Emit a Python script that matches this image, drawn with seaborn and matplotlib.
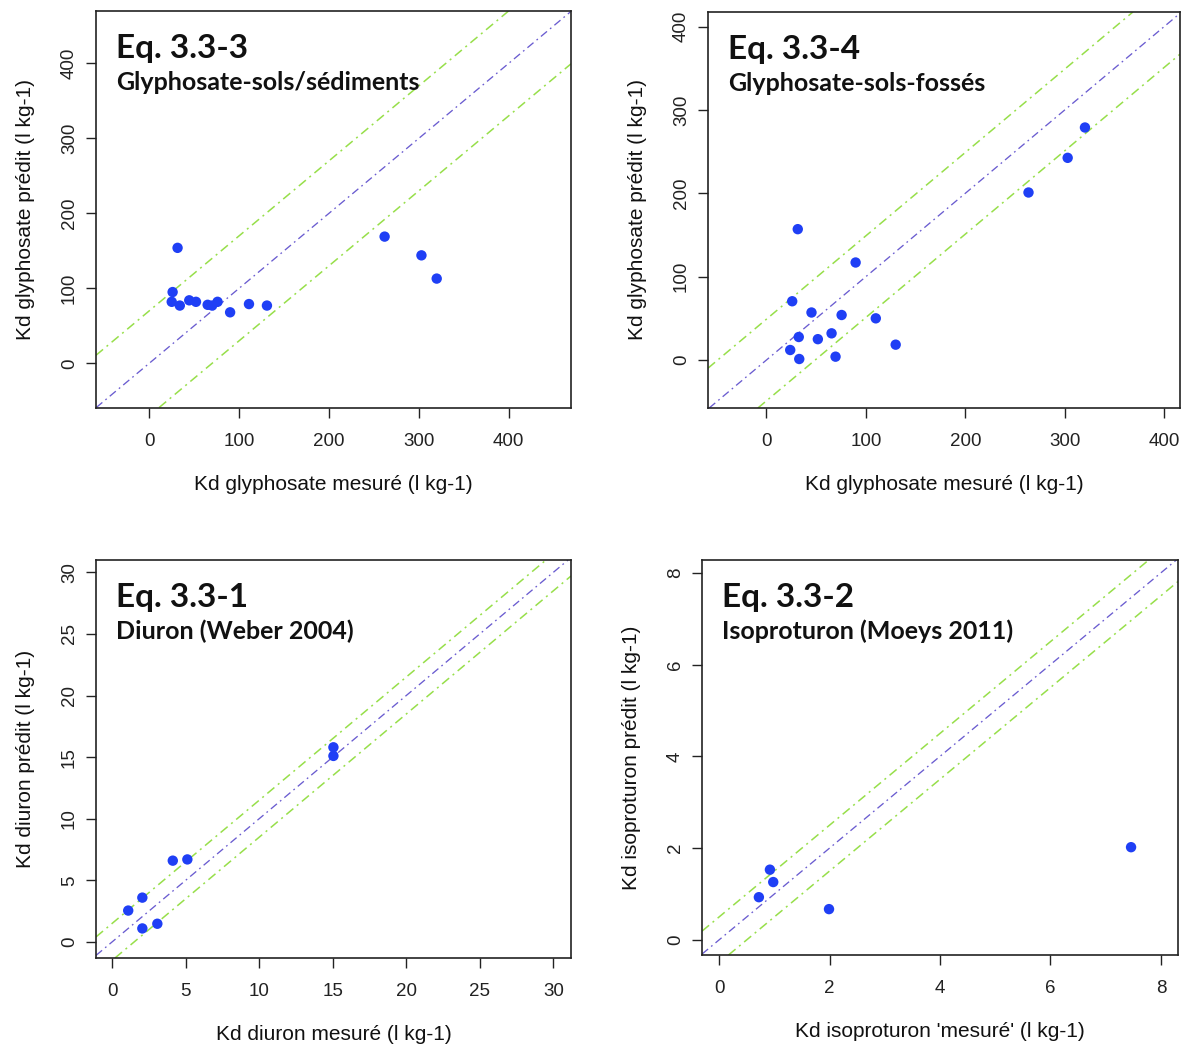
import matplotlib
matplotlib.use("Agg")
import matplotlib.pyplot as plt
import seaborn as sns
import pandas as pd

# ---------------- data ----------------
glypho_sed_mesure = [31.5, 26, 25, 34, 44.5, 52, 65, 70, 76, 90, 111, 131, 262, 303, 320]
glypho_sed_predit = [154, 95, 82, 77, 84, 82, 78, 77, 82, 68, 79, 77, 169, 144, 113]

glypho_fos_mesure = [31.5, 89.7, 25.9, 45.3, 75.6, 110, 32.5, 51.7, 65.5, 23.9, 33, 69.5, 130, 263.6, 303, 320.4]
glypho_fos_predit = [157, 117, 70.5, 57, 54, 50, 27.6, 25, 32, 12, 1.2, 4, 18.4, 201, 242.6, 279]

diuron_mesure = [15.05, 15.05, 4.13, 5.12, 2.06, 1.1, 2.06, 3.08]
diuron_predit = [15.8, 15.1, 6.6, 6.7, 3.6, 2.55, 1.1, 1.48]

isoprot_mesure = [0.92, 0.98, 0.72, 1.99, 7.46]
isoprot_predit = [1.53, 1.26, 0.93, 0.67, 2.02]

titles = ["Eq. 3.3-3", "Eq. 3.3-4", "Eq. 3.3-1", "Eq. 3.3-2"]
subtitles = ["Glyphosate-sols/sédiments", "Glyphosate-sols-fossés",
             "Diuron (Weber 2004)", "Isoproturon (Moeys 2011)"]
xlabels = ["Kd glyphosate mesuré (l kg-1)", "Kd glyphosate mesuré (l kg-1)",
           "Kd diuron mesuré (l kg-1)", "Kd isoproturon 'mesuré' (l kg-1)"]
ylabels = ["Kd glyphosate prédit (l kg-1)", "Kd glyphosate prédit (l kg-1)",
           "Kd diuron prédit (l kg-1)", "Kd isoproturon prédit (l kg-1)"]
ticks = [[0, 100, 200, 300, 400], [0, 100, 200, 300, 400],
         [0, 5, 10, 15, 20, 25, 30], [0, 2, 4, 6, 8]]
band_offsets = [70, 49, 1.5, 0.5]

# ---------------- style ----------------
sns.set_style("white")
plt.rcParams["font.family"] = ["Liberation Sans", "DejaVu Sans"]

fig = plt.figure(figsize=(11.82, 10.46), dpi=100)
W, H = 1182, 1046

def px_axes(l, t, r, b):
    return fig.add_axes([l / W, 1 - b / H, (r - l) / W, (b - t) / H])

axes = [px_axes(96, 11, 571, 407.5),
        px_axes(708, 12, 1180, 408),
        px_axes(96, 560, 571, 958),
        px_axes(702, 560, 1178, 955)]
xlims = [(-59.3, 469.5), (-58.8, 416), (-1.09, 31.2), (-0.31, 8.31)]
ylims = [(-59, 470), (-57.6, 417.6), (-1.3, 31.0), (-0.33, 8.28)]

datasets = [(glypho_sed_mesure, glypho_sed_predit),
            (glypho_fos_mesure, glypho_fos_predit),
            (diuron_mesure, diuron_predit),
            (isoprot_mesure, isoprot_predit)]

point_col = "#1f3ff5"
line_col = "#6a5cd0"
band_col = "#97df4a"
dotdash = (0, (6, 3, 1.3, 3))

for i, ax in enumerate(axes):
    mx, pr = datasets[i]
    df = pd.DataFrame({"mesure": mx, "predit": pr})
    ax.axline((0, 0), slope=1, color=line_col, lw=0.95, ls=dotdash, zorder=1)
    ax.axline((0, band_offsets[i]), slope=1, color=band_col, lw=1.1, ls=dotdash, zorder=1)
    ax.axline((0, -band_offsets[i]), slope=1, color=band_col, lw=1.1, ls=dotdash, zorder=1)
    sns.scatterplot(data=df, x="mesure", y="predit", ax=ax, color=point_col,
                    s=56, edgecolor="none", linewidth=0, zorder=3)
    ax.set_xlim(*xlims[i])
    ax.set_ylim(*ylims[i])
    ax.set_xticks(ticks[i])
    ax.set_yticks(ticks[i])
    ax.set_xticklabels([str(t) for t in ticks[i]])
    ax.set_yticklabels([str(t) for t in ticks[i]], rotation=90, va="center")
    ax.tick_params(axis="both", direction="out", length=7, width=1, color="#222222",
                   labelsize=13.5, labelcolor="#222222", bottom=True, left=True)
    ax.tick_params(axis="x", pad=11)
    ax.tick_params(axis="y", pad=6)
    for sp in ax.spines.values():
        sp.set_visible(True)
        sp.set_color("#222222")
        sp.set_linewidth(1.2)
    ax.set_xlabel(xlabels[i], fontsize=15, color="#111111", labelpad=18)
    ax.set_ylabel(ylabels[i], fontsize=15, color="#111111", labelpad=19)
    ax.annotate(titles[i], xy=(0, 1), xycoords="axes fraction",
                xytext=(20, -47), textcoords="offset pixels",
                fontsize=24, fontweight="bold", family=["Lato", "DejaVu Sans"],
                color="#111111", va="baseline", ha="left")
    ax.annotate(subtitles[i], xy=(0, 1), xycoords="axes fraction",
                xytext=(20, -79), textcoords="offset pixels",
                fontsize=18, fontweight="bold", family=["Lato", "DejaVu Sans"],
                color="#111111", va="baseline", ha="left")

fig.savefig("out.png", dpi=100, facecolor="white")
